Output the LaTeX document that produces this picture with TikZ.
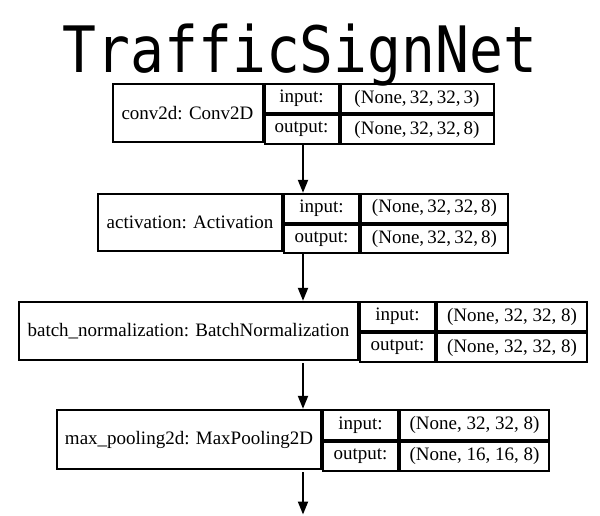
\documentclass[tikz,border=0pt]{standalone}
\usepackage{fontspec}
\setmainfont{Liberation Serif}
\newfontfamily\titlefont[FakeStretch=0.88]{DejaVu Sans Mono}
\usetikzlibrary{arrows.meta,fit}
\tikzset{
  cell/.style={draw, line width=2pt, inner sep=0pt, anchor=north west, font=\fontsize{19}{19}\selectfont},
  keycell/.style={cell, minimum width=75pt, minimum height=29pt},
  valcell/.style={cell, minimum height=29pt},
  layer/.style={inner sep=0pt},
  flow/.style={line width=2pt, -{Triangle[length=13pt,width=10pt]}}
}
\begin{document}
\begin{tikzpicture}[x=1pt,y=-1pt]
\useasboundingbox[fill=white] (0,0) rectangle (600,515);
\node[font=\titlefont\fontsize{64}{64}\selectfont, anchor=base] (title) at (300,72) {TrafficSignNet};
% conv2d
\node[cell, minimum width=150pt, minimum height=58pt] (conv) at (111.5,83) {conv2d: Conv2D};
\node[keycell, minimum width=74pt] (conv-in) at (conv.north east) {input:};
\node[keycell, minimum width=74pt] (conv-out) at (conv-in.south west) {output:};
\node[valcell, minimum width=153pt] (conv-inv) at (conv-in.north east) {(None,\,32,\,32,\,3)};
\node[valcell, minimum width=153pt] (conv-outv) at (conv-out.north east) {(None,\,32,\,32,\,8)};
\node[layer, fit=(conv)(conv-outv)] (L1) {};
% activation
\node[cell, minimum width=184pt, minimum height=57pt] (act) at (97,193) {activation: Activation};
\node[keycell, minimum height=28.5pt] (act-in) at (act.north east) {input:};
\node[keycell, minimum height=28.5pt] (act-out) at (act-in.south west) {output:};
\node[valcell, minimum width=147pt, minimum height=28.5pt] (act-inv) at (act-in.north east) {(None,\,32,\,32,\,8)};
\node[valcell, minimum width=147pt, minimum height=28.5pt] (act-outv) at (act-out.north east) {(None,\,32,\,32,\,8)};
\node[layer, fit=(act)(act-outv)] (L2) {};
% batch normalization
\node[cell, minimum width=339pt, minimum height=58pt] (bn) at (18,301) {batch\_normalization: BatchNormalization};
\node[keycell] (bn-in) at (bn.north east) {input:};
\node[keycell] (bn-out) at (bn-in.south west) {output:};
\node[valcell, minimum width=150pt] (bn-inv) at (bn-in.north east) {(None, 32, 32, 8)};
\node[valcell, minimum width=150pt] (bn-outv) at (bn-out.north east) {(None, 32, 32, 8)};
\node[layer, fit=(bn)(bn-outv)] (L3) {};
% max pooling
\node[cell, minimum width=264pt, minimum height=59pt] (pool) at (56,409) {max\_pooling2d: MaxPooling2D};
\node[keycell, minimum height=29.5pt] (pool-in) at (pool.north east) {input:};
\node[keycell, minimum height=29.5pt] (pool-out) at (pool-in.south west) {output:};
\node[valcell, minimum width=149pt, minimum height=29.5pt] (pool-inv) at (pool-in.north east) {(None, 32, 32, 8)};
\node[valcell, minimum width=149pt, minimum height=29.5pt] (pool-outv) at (pool-out.north east) {(None, 16, 16, 8)};
\node[layer, fit=(pool)(pool-outv)] (L4) {};
\coordinate (next) at (300,514.5);
% arrows
\draw[flow] (L1.south) -- (L1.south |- L2.north);
\draw[flow] (L2.south) -- (L2.south |- L3.north);
\draw[flow] (L3.south) -- (L3.south |- L4.north);
\draw[flow] (L4.south) -- (L4.south |- next);
\end{tikzpicture}
\end{document}
